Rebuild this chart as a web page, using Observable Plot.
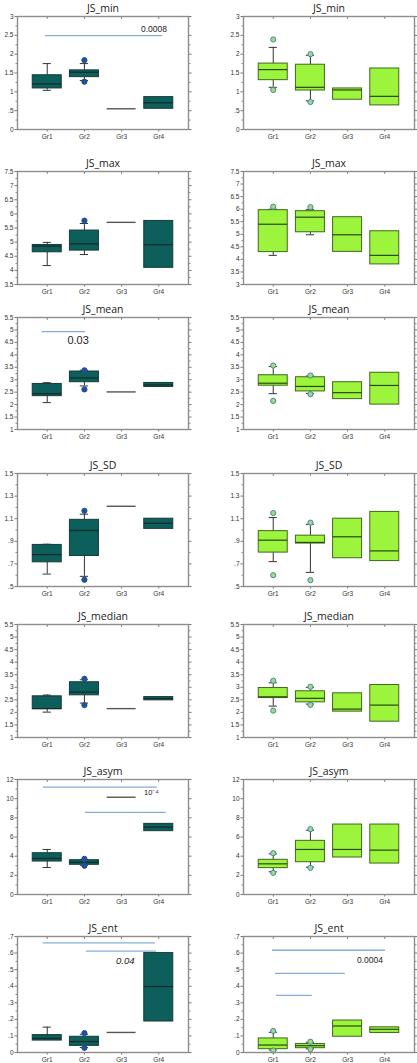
<!DOCTYPE html>
<html><head><meta charset="utf-8">
<script src="https://cdn.jsdelivr.net/npm/d3@7"></script>
<script src="https://cdn.jsdelivr.net/npm/@observablehq/plot@0.6"></script>
<style>
body{margin:0;background:#fff;}
#root{position:relative;width:417px;height:1063px;overflow:hidden;background:#fff;}
.panel{position:absolute;}
</style></head><body><div id="root"></div>
<script>
const groups = ["Gr1","Gr2","Gr3","Gr4"];
const titles = ["JS_min","JS_max","JS_mean","JS_SD","JS_median","JS_asym","JS_ent"];
// [low whisker, q1, median, q3, high whisker] per group
const minL  = [[1.04,1.09,1.21,1.44,1.75],[1.30,1.39,1.52,1.57,1.75],[0.55,0.55,0.55,0.55,0.55],[0.55,0.55,0.71,0.86,0.86]];
const minLOut = [[],[1.84,1.27],[],[]];
const minR  = [[1.12,1.31,1.59,1.75,2.18],[0.76,1.035,1.12,1.72,1.97],[0.79,0.79,1.05,1.09,1.09],[0.64,0.64,0.88,1.62,1.62]];
const minROut = [[2.39,1.05],[2.0,0.73],[],[]];
const maxL  = [[4.17,4.64,4.86,4.90,4.99],[4.56,4.70,4.94,5.41,5.66],[5.70,5.70,5.70,5.70,5.70],[4.09,4.09,4.91,5.75,5.75]];
const maxLOut = [[],[5.76],[],[]];
const maxR  = [[4.16,4.29,5.40,5.96,6.0],[4.98,5.08,5.68,5.92,5.98],[4.30,4.30,4.98,5.68,5.68],[3.80,3.80,4.16,5.12,5.12]];
const maxROut = [[6.1],[6.08],[],[]];
const meanL = [[2.08,2.34,2.44,2.83,2.88],[2.75,2.90,3.07,3.33,3.38],[2.51,2.51,2.51,2.51,2.51],[2.71,2.71,2.79,2.87,2.87]];
const meanLOut = [[],[3.38,2.61],[],[]];
const meanR = [[2.44,2.76,2.86,3.18,3.53],[2.45,2.53,2.73,3.10,3.15],[2.22,2.22,2.48,2.90,2.90],[2.0,2.0,2.77,3.28,3.28]];
const meanROut = [[3.57,2.15],[3.17,2.42],[],[]];
const sdL   = [[0.61,0.714,0.782,0.868,0.874],[0.59,0.77,0.996,1.09,1.14],[1.21,1.21,1.21,1.21,1.21],[1.01,1.01,1.06,1.10,1.10]];
const sdLOut = [[],[1.17,0.56],[],[]];
const sdR   = [[0.72,0.80,0.91,0.99,1.11],[0.625,0.88,0.89,0.95,1.05],[0.75,0.75,0.94,1.10,1.10],[0.725,0.725,0.815,1.16,1.16]];
const sdROut = [[1.15,0.60],[1.065,0.556],[],[]];
const medL  = [[2.01,2.13,2.15,2.64,2.69],[2.37,2.68,2.81,3.20,3.30],[2.15,2.15,2.15,2.15,2.15],[2.48,2.48,2.55,2.61,2.61]];
const medLOut = [[],[3.34,2.29],[],[]];
const medR  = [[2.25,2.57,2.62,2.97,3.18],[2.33,2.40,2.56,2.84,3.0],[2.03,2.03,2.13,2.76,2.76],[1.63,1.63,2.29,3.09,3.09]];
const medROut = [[3.26,2.07],[3.02,2.30],[],[]];
const asymL = [[2.82,3.44,3.76,4.31,4.70],[3.05,3.10,3.37,3.58,3.65],[10.15,10.15,10.15,10.15,10.15],[6.61,6.61,7.03,7.37,7.37]];
const asymLOut = [[],[3.72,3.0],[],[]];
const asymR = [[2.37,2.75,3.20,3.62,4.24],[2.85,3.37,4.70,5.60,6.7],[3.86,3.86,4.70,7.30,7.30],[3.23,3.23,4.63,7.30,7.30]];
const asymROut = [[4.31,2.26],[6.82,2.78],[],[]];
const entL  = [[0.072,0.072,0.085,0.105,0.153],[0.03,0.040,0.066,0.095,0.11],[0.121,0.121,0.121,0.121,0.121],[0.187,0.187,0.398,0.60,0.60]];
const entLOut = [[],[0.117,0.028],[],[]];
const entR  = [[0.015,0.020,0.045,0.085,0.122],[0.022,0.026,0.041,0.051,0.062],[0.095,0.095,0.16,0.193,0.193],[0.118,0.118,0.14,0.152,0.152]];
const entROut = [[0.13,0.012],[0.065,0.02],[],[]];
// significance bars [fromGroup, toGroup, y] and labels [x, y, text]
const minLSig = [[0.95,4.1,2.49]];            const minLLab = [[3.87,2.67,"0.0008"]];
const meanLSig = [[0.86,2.03,4.93]];          const meanLLab = [[1.83,4.56,"0.03"]];
const asymLSig = [[0.9,3.96,11.2],[2.03,4.2,8.56]]; const asymLLab = [[3.8,10.6,"10⁻⁴"]];
const entLSig = [[0.89,3.91,0.662],[2.05,3.94,0.612]]; const entLLab = [[3.1,0.551,"0.04"]];
const entRSig = [[0.98,4.02,0.617],[1.06,2.94,0.477],[1.09,2.05,0.345]]; const entRLab = [[3.6,0.558,"0.0004"]];
// y axis domains and steps per row (left, right)
const yDomL = [[0,3],[3.5,7.5],[1,5.5],[0.5,1.5],[1,5.5],[0,12],[0,0.7]];
const yDomR = [[0,3],[3,7.5],[1,5.5],[0.5,1.5],[1,5.5],[0,12],[0,0.7]];
const ySteps = [0.5,0.5,0.5,0.2,0.5,2,0.1];

const leftStats = [minL,maxL,meanL,sdL,medL,asymL,entL];
const leftOuts = [minLOut,maxLOut,meanLOut,sdLOut,medLOut,asymLOut,entLOut];
const rightStats = [minR,maxR,meanR,sdR,medR,asymR,entR];
const rightOuts = [minROut,maxROut,meanROut,sdROut,medROut,asymROut,entROut];
const leftSig = [minLSig,[],meanLSig,[],[],asymLSig,entLSig];
const leftLab = [minLLab,[],meanLLab,[],[],asymLLab,entLLab];
const rightSig = [[],[],[],[],[],[],entRSig];
const rightLab = [[],[],[],[],[],[],entRLab];

const frameTops = [15.5,170.5,317,473,623.5,779,936];
const frameHs = [113,113,112,113,113,115,116];
const MT = 22, MB = 17;

const fmt = d => d === 0 ? "0" : String(+d.toFixed(2)).replace(/^0\./, ".");
const labStyle = [
  {fontSize: 8.5, fontStyle: "normal"}, null,
  {fontSize: 11, fontStyle: "normal"}, null, null,
  {fontSize: 7.5, fontStyle: "normal"},
  {fontSize: 9.5, fontStyle: "italic"}
];
const labStyleR = {fontSize: 8.5, fontStyle: "normal"};

function makePanel(row, side) {
  const L = side === "L";
  const stats = L ? leftStats[row] : rightStats[row];
  const outs = L ? leftOuts[row] : rightOuts[row];
  const sig = L ? leftSig[row] : rightSig[row];
  const lab = L ? leftLab[row] : rightLab[row];
  const dom = L ? yDomL[row] : yDomR[row];
  const step = ySteps[row];
  const nT = Math.round((dom[1]-dom[0])/step);
  const ticks = d3.range(nT+1).map(i => +(dom[0]+i*step).toFixed(3));
  const minor = d3.range(nT).map(i => +(dom[0]+(i+0.5)*step).toFixed(3));
  const rows = stats.map((s,i) => ({g:i+1, lo:s[0], q1:s[1], med:s[2], q3:s[3], hi:s[4]}));
  const boxes = rows.filter(r => r.q3 > r.q1);
  const flat = rows.filter(r => r.q3 === r.q1);
  const pts = outs.flatMap((o,i) => o.map(v => ({g:i+1, v})));
  const fill = L ? "#0c5f5b" : "#9cf43c";
  const stroke = L ? "#173b39" : "#3e6a1c";
  const medStroke = L ? "#122a28" : "#2a4812";
  const hw = 0.39, cw = 0.11;
  const fh = frameHs[row];
  const style = L ? (labStyle[row] || labStyleR) : labStyleR;
  const topTickLen = (dom[1]-dom[0]) * 0.025;
  const width = L ? 207 : 210;
  const chart = Plot.plot({
    width, height: MT + fh + MB,
    marginTop: MT, marginBottom: MB,
    marginLeft: L ? 17 : 36, marginRight: L ? 19 : 3,
    style: {fontFamily: "'Liberation Sans', Arial, sans-serif", background: "#fff", overflow: "visible"},
    x: {domain: [0.2, 4.8]},
    y: {domain: dom},
    marks: [
      Plot.axisY(ticks, {tickSize: 2.5, tickPadding: 1.5, tickFormat: fmt, fontSize: 6.5, stroke: "#777", color: "#333", label: null}),
      Plot.axisY(minor, {tickSize: 1.5, tickFormat: () => "", stroke: "#888", label: null}),
      Plot.axisY(ticks, {anchor: "right", tickSize: 2.5, tickFormat: () => "", stroke: "#777", label: null}),
      Plot.axisY(minor, {anchor: "right", tickSize: 1.5, tickFormat: () => "", stroke: "#888", label: null}),
      Plot.axisX([1,2,3,4], {tickSize: 2.5, tickPadding: 2.5, tickFormat: i => groups[i-1], fontSize: 6.5, stroke: "#777", color: "#333", label: null}),
      Plot.ruleX([1,2,3,4], {y1: dom[1], y2: dom[1] - topTickLen, stroke: "#777"}),
      Plot.ruleY(sig, {x1: d => d[0], x2: d => d[1], y: d => d[2], stroke: "#86acd9", strokeWidth: 1.3}),
      Plot.text(lab, {x: d => d[0], y: d => d[1], text: d => d[2], fontSize: style.fontSize, fontStyle: style.fontStyle, fill: "#222"}),
      Plot.ruleX(rows.filter(r => r.hi > r.q3), {x: "g", y1: "q3", y2: "hi", stroke: "#333", strokeWidth: 1}),
      Plot.ruleX(rows.filter(r => r.lo < r.q1), {x: "g", y1: "lo", y2: "q1", stroke: "#333", strokeWidth: 1}),
      Plot.ruleY(rows.filter(r => r.hi > r.q3), {x1: d => d.g - cw, x2: d => d.g + cw, y: "hi", stroke: "#333", strokeWidth: 1}),
      Plot.ruleY(rows.filter(r => r.lo < r.q1), {x1: d => d.g - cw, x2: d => d.g + cw, y: "lo", stroke: "#333", strokeWidth: 1}),
      Plot.rect(boxes, {x1: d => d.g - hw, x2: d => d.g + hw, y1: "q1", y2: "q3", fill, stroke, strokeWidth: 1}),
      Plot.ruleY(boxes, {x1: d => d.g - hw, x2: d => d.g + hw, y: "med", stroke: medStroke, strokeWidth: 1.2}),
      Plot.ruleY(flat, {x1: d => d.g - hw, x2: d => d.g + hw, y: "med", stroke: "#555", strokeWidth: 1.4}),
      Plot.dot(pts, {x: "g", y: "v", r: 2.6, fill: L ? "#1f4f9e" : "#9ee06a", stroke: L ? "#1f4f9e" : "#4f7fc4", strokeWidth: 1}),
      Plot.frame({stroke: "#8e8e8e", strokeWidth: 1.4}),
      Plot.text([titles[row]], {frameAnchor: "top", lineAnchor: "middle", dy: -8, fontSize: 10.5, fill: "#222", fontFamily: "'Open Sans', sans-serif"})
    ]
  });
  const div = document.createElement("div");
  div.className = "panel";
  div.style.left = (L ? 0 : 207) + "px";
  div.style.top = (frameTops[row] - MT) + "px";
  div.appendChild(chart);
  document.getElementById("root").appendChild(div);
}
for (let r = 0; r < 7; r++) { makePanel(r, "L"); makePanel(r, "R"); }
</script>
</body></html>
